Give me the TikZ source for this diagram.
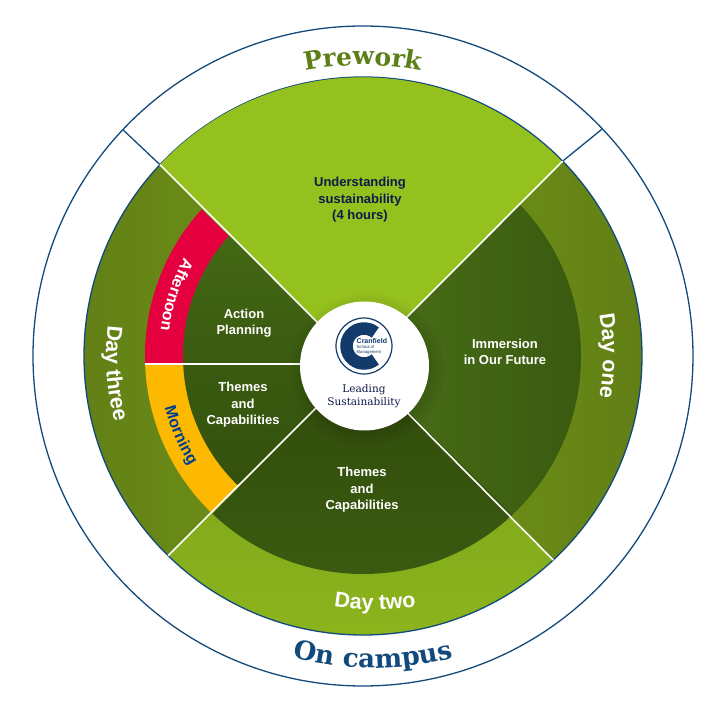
\documentclass[tikz,border=0pt]{standalone}
\usepackage{fontspec}
\setmainfont{Liberation Sans}
\newfontfamily\slabfont{DejaVu Serif}
\usetikzlibrary{decorations.text,fadings}
\definecolor{navyline}{HTML}{134A7C}
\definecolor{navytext}{HTML}{0D1A4A}
\definecolor{logoblue}{HTML}{123A6B}
\definecolor{leafgreen}{HTML}{95C11F}
\definecolor{prework}{HTML}{5C7F18}
\definecolor{aftred}{HTML}{E4003F}
\definecolor{mornyellow}{HTML}{FDB900}
\definecolor{mornblue}{HTML}{003C8F}
\definecolor{ringa}{HTML}{759A1A}
\definecolor{ringb}{HTML}{607D15}
\definecolor{ringc}{HTML}{7AA21C}
\definecolor{ringd}{HTML}{8CB51C}
\definecolor{darka}{HTML}{4A7018}
\definecolor{darkb}{HTML}{3A5A10}
\definecolor{darkc}{HTML}{304C0C}
\tikzfading[name=hubfade,inner color=transparent!40,outer color=transparent!100]
\tikzset{
  lbl/.style={align=center,font=\bfseries\fontsize{13}{16.5}\selectfont,text=white},
  spoke/.style={white,line width=1.6pt},
  outerspoke/.style={navyline,line width=1.3pt},
  arclbl/.style={decorate,decoration={text along path,text align=center,text={#1}}}
}
\newcommand{\slabbig}{\slabfont\bfseries\fontsize{25}{25}\selectfont}
\newcommand{\slabcamp}{\slabfont\bfseries\fontsize{26}{26}\selectfont}
\newcommand{\daybig}{\bfseries\fontsize{21.5}{21.5}\selectfont}
\newcommand{\bandsmall}{\bfseries\fontsize{16}{16}\selectfont}
\begin{document}
\begin{tikzpicture}[x=1pt,y=1pt]
		\useasboundingbox (-363,-358) rectangle (363,356);
		\coordinate (cross) at (-3.5,-8.5);
		\coordinate (tl) at (136.7:279);
		\coordinate (tr) at (44.3:279);
		\coordinate (bl) at (225.7:279);
		\coordinate (br) at (313:279);
		\coordinate (tlo) at (136.7:330);
		\coordinate (tro) at (43.5:330);
		\coordinate (tlfar) at (136.7:400);
		\coordinate (blfar) at (225.7:400);
		\coordinate (westfar) at (-400,-8);
		\coordinate (west) at (-218,-8);
		\coordinate (hubw) at (-60,-8);
		% outer ring
		\draw[navyline,line width=1.3pt] (0,0) circle (330);
		\draw[outerspoke] (tlo) -- (tl);
		\draw[outerspoke] (tro) -- (tr);
		% four day sectors
		\fill[leafgreen] (cross) -- (tl) arc[start angle=136.7,end angle=44.3,radius=279] -- cycle;
		\shade[left color=ringa,right color=ringb] (cross) -- (tr) arc[start angle=44.3,end angle=-47,radius=279] -- cycle;
		\shade[top color=ringc,bottom color=ringd] (cross) -- (br) arc[start angle=313,end angle=225.7,radius=279] -- cycle;
		\shade[left color=ringb,right color=ringa] (cross) -- (bl) arc[start angle=225.7,end angle=136.7,radius=279] -- cycle;
		% dark centre
		\begin{scope}
			\clip (0,0) circle (218);
			\shade[left color=darka,right color=darkb] (cross) -- (220,216) -- (220,-233) -- cycle;
			\shade[top color=darkc,bottom color=darkb] (cross) -- (-212,-220) -- (212,-220) -- cycle;
			\fill[aftred] (cross) -- (tlfar) -- (westfar) -- cycle;
			\fill[mornyellow] (cross) -- (blfar) -- (westfar) -- cycle;
		\end{scope}
		\begin{scope}
			\clip (0,0) circle (180);
			\shade[top color=darka,bottom color=darkb] (cross) -- (tl) -- (-279,-8) -- cycle;
			\shade[top color=darkb,bottom color=darkc] (cross) -- (bl) -- (-279,-8) -- cycle;
		\end{scope}
		\draw[navyline,line width=1.3pt] (0,0) circle (279);
		\fill[leafgreen] (cross) -- (tl) arc[start angle=136.7,end angle=44.3,radius=278] -- cycle;
		\draw[spoke] (tl) -- (cross);
		\draw[spoke] (tr) -- (cross);
		\draw[spoke] (bl) -- (cross);
		\draw[spoke] (br) -- (cross);
		\draw[spoke] (west) -- (hubw);
		% hub
		\fill[black,path fading=hubfade] (4,-14) circle (78);
		\node[circle,fill=white,minimum size=129pt,inner sep=0pt] (hub) at (1.5,-10) {};
		\draw[logoblue,line width=1.2pt] (1,10) circle (28);
		\draw[logoblue,line width=12.5pt] (1,10) ++(50:17.5) arc[start angle=50,end angle=310,radius=17.5];
		\node[font=\bfseries\fontsize{7}{7}\selectfont,text=logoblue,anchor=west,inner sep=0pt] (logoname) at (-6.5,14.5) {Cranfield};
		\node[font=\fontsize{4.2}{5}\selectfont,text=logoblue,align=left,anchor=north west,inner sep=0pt] (logosub) at (-6.5,11) {School of\\Management};
		\node[font=\slabfont\fontsize{10.5}{13}\selectfont,text=navytext,align=center] (leading) at (1,-40) {Leading\\Sustainability};
		% sector labels
		\node[lbl,text=navytext] (understanding) at (-3,156) {Understanding\\sustainability\\(4 hours)};
		\node[lbl] (immersion) at (142,4) {Immersion\\in Our Future};
		\node[lbl] (themesb) at (-1,-134) {Themes\\and\\Capabilities};
		\node[lbl] (action) at (-119,33) {Action\\Planning};
		\node[lbl] (themesa) at (-120,-49) {Themes\\and\\Capabilities};
		% curved labels
		\path[arclbl={|\slabbig\color{prework}|Prework}] (120:291) arc[start angle=120,end angle=60,radius=291];
		\path[arclbl={|\slabcamp\color{navyline}|On campus}] ([shift={(225:312)}]10,0) arc[start angle=225,end angle=315,radius=312];
		\path[arclbl={|\daybig\color{white}|Day two}] ([shift={(232:254)}]12,0) arc[start angle=232,end angle=308,radius=254];
		\path[arclbl={|\daybig\color{white}|Day one}] (30:240) arc[start angle=30,end angle=-30,radius=240];
		\path[arclbl={|\daybig\color{white}|Day three}] (154:257) arc[start angle=154,end angle=214,radius=257];
		\path[arclbl={|\bandsmall\color{white}|Afternoon}] (137:204) arc[start angle=137,end angle=187,radius=204];
		\path[arclbl={|\bandsmall\color{mornblue}|Morning}] (180:205) arc[start angle=180,end angle=227,radius=205];
\end{tikzpicture}
\end{document}
